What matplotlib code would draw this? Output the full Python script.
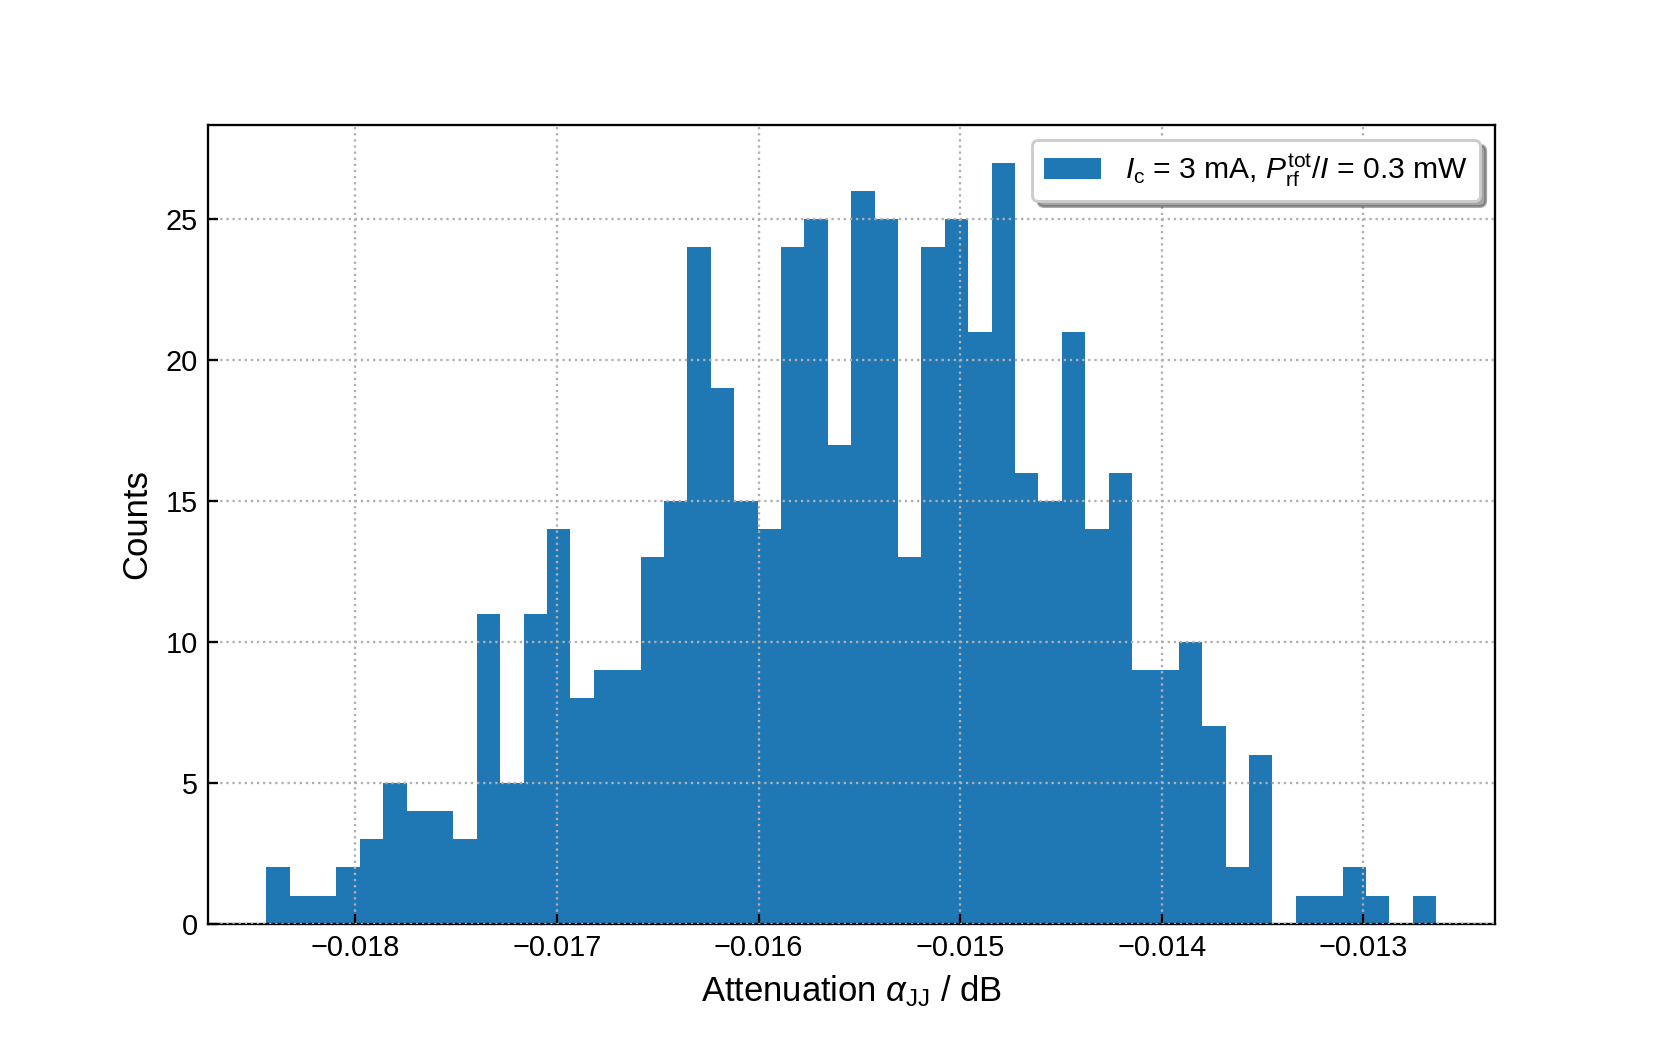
import numpy as np
import matplotlib
matplotlib.use("Agg")
import matplotlib.pyplot as plt

plt.rcParams["font.family"] = ["Liberation Sans", "DejaVu Sans"]
plt.rcParams["mathtext.fontset"] = "custom"
plt.rcParams["mathtext.rm"] = "Liberation Sans"
plt.rcParams["mathtext.it"] = "Liberation Sans:italic"
plt.rcParams["xtick.direction"] = "in"
plt.rcParams["ytick.direction"] = "in"

# histogram counts (50 bins)
counts = [2, 1, 1, 2, 3, 5, 4, 4, 3, 11,
          5, 11, 14, 8, 9, 9, 13, 15, 24, 19,
          15, 14, 24, 25, 17, 26, 25, 13, 24, 25,
          21, 27, 16, 15, 21, 14, 16, 9, 9, 10,
          7, 2, 6, 0, 1, 1, 2, 1, 0, 1]
alpha_min = -0.018442   # dB, left edge of first bin
alpha_max = -0.012639   # dB, right edge of last bin
edges = np.linspace(alpha_min, alpha_max, len(counts) + 1)
label = r"$I_{\rm c}$ = 3 mA, $P_{\rm rf}^{\rm tot}/I$ = 0.3 mW"

fig, ax = plt.subplots(figsize=(1661 / 207.6, 1038 / 207.6), dpi=207.6)
ax.hist(edges[:-1], bins=edges, weights=counts, color="C0", label=label)

ax.set_xlim(-0.018732, -0.012348)
ax.set_xticks([-0.018, -0.017, -0.016, -0.015, -0.014, -0.013])
ax.set_yticks([0, 5, 10, 15, 20, 25])
ax.tick_params(labelsize=10)
ax.grid(True, linestyle=":", color="#b0b0b0", linewidth=0.8)
ax.set_axisbelow(False)

ax.set_xlabel(r"Attenuation $\alpha_{\rm JJ}$ / dB", fontsize=12)
ax.set_ylabel("Counts", fontsize=12)
ax.legend(loc="upper right", fontsize=10.4, shadow=True, framealpha=1,
          handlelength=1.9)

fig.savefig("out.png", dpi=207.6)
